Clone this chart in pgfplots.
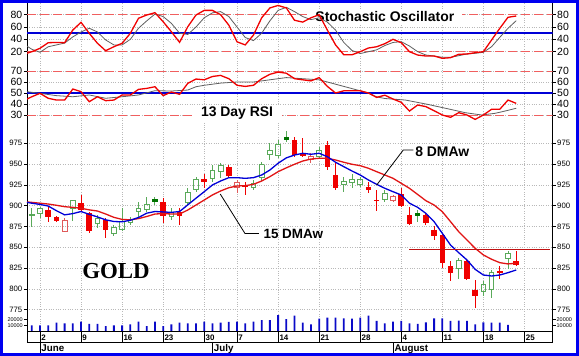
\documentclass[border=0pt]{standalone}
\usepackage{pgfplots}
\pgfplotsset{compat=1.18}
\usepackage{pgfplotstable}
\usepackage{fontspec}
\setmainfont{Liberation Sans}
\newfontfamily\goldfont{Liberation Serif}
\definecolor{frameblue}{RGB}{0,0,240}
\definecolor{upgreen}{RGB}{90,170,90}
\definecolor{dkgreen}{RGB}{0,115,0}
\definecolor{candred}{RGB}{240,0,0}
\definecolor{pinkred}{RGB}{225,90,90}
\definecolor{dashred}{RGB}{240,95,95}
\definecolor{gridgray}{RGB}{185,185,185}
\definecolor{stochgray}{RGB}{95,95,95}
\definecolor{lineblue}{RGB}{0,0,215}
\definecolor{ma15}{RGB}{225,20,20}
\definecolor{volblue}{RGB}{10,10,200}

\pgfplotstableread{
i o h l c
-1 888 897 874 890
0 891 899 885 897
4 897 907 881 906
7 879 889 873 885
9 867 877 863 874
10 872 897 870 881
11 880 887 877 884
12 893 904 884 897
13 895 911 892 901
16 887 897 883 892
18 904 921 901 916
19 919 935 917 931
21 933 949 928 942
22 941 951 933 948
26 922 931 919 927
27 934 953 930 949
28 962 975 955 967
29 960 979 957 974
34 959 971 957 967
37 926 935 917 929
38 928 938 921 932
39 926 935 923 931
42 908 919 905 915
51 824 837 812 834
54 797 809 791 805
55 799 823 789 820
57 836 846 824 843
}\upcandles

\pgfplotstableread{
i o h l c
1 895 898 880 886
2 887 888 881 882
5 903 913 892 895
6 891 893 867 869
8 883 885 861 871
15 904 909 879 888
17 892 897 877 888
20 932 938 921 929
23 946 949 935 936
25 925 929 913 923
31 979 983 959 961
32 963 981 958 960
35 973 978 943 947
36 937 951 919 921
40 923 929 915 919
41 907 919 894 905.5
44 914 921 899 900
45 889 899 877 878
47 889 891 877 879
48 871 875 859 863
49 865 867 825 831
50 827 834 809 819
52 833 835 811 812
53 799 811 777 792
56 822 828 812 819
58 833 845 827 829
}\dncandles

\pgfplotstableread{
i o h l c
3 869 885 868 882
24 922 931 915 928
33 955 963 951 959
43 906 913 904 911
}\uprcandles

\pgfplotstableread{
i o h l c
14 908 911 901 905
30 983 990 977 979
46 891 895 881 888
}\dgcandles

\pgfplotsset{
  panel/.style={
    scale only axis, width=525.5bp, xmin=-1.583, xmax=62.42,
    anchor=north west,
    separate axis lines,
    x axis line style={draw=none},
    y axis line style={draw=black, line width=0.8bp},
    xtick={0,5,10,15,20,24,29,34,39,44,49,54,59},
    xticklabels={},
    major x tick style={draw=none},
    xmajorgrids, ymajorgrids,
    major grid style={draw=gridgray, dotted, line width=0.6bp},
    tick align=outside, ytick pos=left,
    major tick length=3bp,
    /pgf/number format/assume math mode=true,
    scaled y ticks=false,
    yticklabel style={inner sep=1.5bp},
    major y tick style={black, line width=0.6bp},
  },
  rightpanel/.style={
    scale only axis, width=525.5bp, xmin=-1.583, xmax=62.42,
    anchor=north west,
    separate axis lines,
    x axis line style={draw=none},
    y axis line style={draw=none},
    xtick=\empty,
    tick align=outside, ytick pos=right, yticklabel pos=right,
    major tick length=3bp,
    /pgf/number format/assume math mode=true,
    scaled y ticks=false,
    yticklabel style={inner sep=1.5bp},
    major y tick style={black, line width=0.6bp},
  },
  vbar/.style 2 args={only marks, mark=*, mark size=0pt, mark options={draw=none, fill=none}, forget plot,
    error bars/.cd, y dir=both, y explicit, error mark=none,
    error bar style={solid, line width=#2, draw=#1}},
  hbar/.style={only marks, mark=*, mark size=0pt, mark options={draw=none, fill=none}, forget plot,
    error bars/.cd, x dir=both, x explicit, error mark=none,
    error bar style={solid, line width=0.9bp, draw=#1}},
}

\begin{document}
\begin{tikzpicture}
\path[use as bounding box] (0bp,0bp) rectangle (579bp,-356bp);
\fill[white] (0bp,0bp) rectangle (579bp,-356bp);

% ---------------- Stochastic panel
\begin{axis}[panel, at={(27bp,-3bp)}, height=58bp, ymin=4.92, ymax=98.97,
  ytick={20,40,60,80},
  yticklabel style={font=\fontsize{10.5}{12}\selectfont}]
\addplot[dashred, line width=1bp, dash pattern=on 9bp off 4bp] coordinates {(-1.583,80) (62.42,80)};
\addplot[dashred, line width=1bp, dash pattern=on 9bp off 4bp] coordinates {(-1.583,20) (62.42,20)};
\node[fill=white, inner xsep=8bp, inner ysep=2bp, font=\fontsize{14}{16}\selectfont\bfseries] at (axis cs:42.0,77.1) {Stochastic Oscillator};
\addplot[lineblue, line width=1.5bp] coordinates {(-1.583,50) (62.42,50)};
% %D (gray)
\addplot[stochgray, line width=0.8bp] coordinates {
(-1.583,29) (-1,24) (0,19) (1,28) (2,31) (3,34) (4,44) (5,52) (6,58) (7,52) (8,39) (9,31) (10,31)
(11,40) (12,58) (13,70) (14,81) (15,77) (16,66) (17,50) (18,48) (19,60) (20,75) (21,83) (22,85)
(23,77) (24,60) (25,43) (26,38) (27,50) (28,70) (29,87) (30,92) (31,85) (32,77) (33,72) (34,75)
(35,68) (36,55) (37,35) (38,22) (39,17) (40,20) (41,23) (42,30) (43,35) (44,36.2) (45,29.2) (46,20)
(47,14.6) (48,13) (49,10.9) (50,10.9) (51,13.5) (52,16.3) (53,17.4) (54,19) (55,28.1) (56,43.3)
(57,57.9) (58,70.3)};
% %K (red)
\addplot[candred, line width=1.3bp] coordinates {
(-1.583,17.4) (-1,20) (0,25.5) (1,34.6) (2,35) (3,34.6) (4,55.2) (5,67.6) (6,49.8) (7,33.6) (8,21.6)
(9,28.1) (10,33.6) (11,49.8) (12,74.2) (13,79.5) (14,83.3) (15,68.6) (16,52.4) (17,35.2) (18,60.5)
(19,79.5) (20,87) (21,87) (22,80) (23,63) (24,36) (25,31) (26,47) (27,75) (28,91) (29,95) (30,91)
(31,71) (32,68) (33,75) (34,80) (35,55) (36,31) (37,15) (38,15) (39,20) (40,26) (41,28) (42,33)
(43,40.1) (44,34.6) (45,20) (46,14.6) (47,13) (48,13) (49,9.3) (50,10.3) (51,15.8) (52,16.3)
(53,18.4) (54,20) (55,39) (56,57.9) (57,75.8) (58,77.9)};
\end{axis}
\begin{axis}[rightpanel, at={(27bp,-3bp)}, height=58bp, ymin=4.92, ymax=98.97,
  ytick={20,40,60,80}, yticklabel style={font=\fontsize{10.5}{12}\selectfont}]
\end{axis}

% ---------------- RSI panel
\begin{axis}[panel, at={(27bp,-61bp)}, height=62bp, ymin=22.73, ymax=79.09,
  ytick={30,40,50,60,70},
  yticklabel style={font=\fontsize{10.5}{12}\selectfont}]
\addplot[dashred, line width=1bp, dash pattern=on 9bp off 4bp] coordinates {(-1.583,70) (62.42,70)};
\addplot[dashred, line width=1bp, dash pattern=on 9bp off 4bp] coordinates {(-1.583,30) (62.42,30)};
\node[fill=white, inner xsep=9bp, inner ysep=2bp, font=\fontsize{14}{16}\selectfont\bfseries] at (axis cs:24.0,31.8) {13 Day RSI};
\addplot[lineblue, line width=1.5bp] coordinates {(-1.583,50) (62.42,50)};
\addplot[stochgray, line width=0.8bp] coordinates {
(-1.583,51.2) (0,49.7) (2,47.6) (4,46.6) (6,48.2) (8,45.2) (10,46.6) (12,48.2) (14,52.1) (16,51.8)
(18,52.7) (19,55.7) (20,57) (22,59) (24,60) (26,60) (28,62) (30,64) (32,63) (34,62) (36,58) (38,54)
(40,50) (41,46.5) (42,45) (44.5,43.6) (47,40) (49.4,36.1) (51.8,32.1) (53.8,30) (55.4,31.5)
(56.3,33) (58,36.1)};
\addplot[candred, line width=1.3bp] coordinates {
(-1.583,44.5) (-1,46.6) (0,49.7) (1,45.2) (2,43.6) (3,43.6) (4,53.6) (5,51.2) (6,42.1) (7,46.6)
(8,43) (9,43.6) (10,48.2) (11,48.2) (12,53.3) (13,54.2) (14,55.7) (15,47.6) (16,50.9) (17,48.8)
(18,58.8) (19,62.7) (20,62) (21,65) (22,66) (23,63) (24,57) (25,56) (26,57) (27,63) (28,67) (29,69)
(30,68) (31,63) (32,62) (33,61) (34,64) (35,56) (36,50) (37,52) (38,52) (39,52) (40,50) (41,46)
(42,48) (43,44.5) (44,41.5) (45,33.6) (46,39.1) (47,37.6) (48,33.9) (49,30) (50,27.9) (51,32.1)
(52,30) (53,26) (54,30) (55,35.2) (56,35.2) (57,43.6) (58,40.6)};
\end{axis}
\begin{axis}[rightpanel, at={(27bp,-61bp)}, height=62bp, ymin=22.73, ymax=79.09,
  ytick={30,40,50,60,70}, yticklabel style={font=\fontsize{10.5}{12}\selectfont}]
\end{axis}

% ---------------- Price panel
\begin{axis}[panel, at={(27bp,-123bp)}, height=191bp, ymin=769.8, ymax=999.4,
  ytick={775,800,825,850,875,900,925,950,975},
  yticklabel style={font=\fontsize{7.8}{9}\selectfont}]
% hollow green candles: wicks above and below the body, then the four edges
\addplot[vbar={upgreen}{0.9bp}] table[x=i, y expr={min(\thisrow{o},\thisrow{c})}, y error plus expr={0}, y error minus expr={min(\thisrow{o},\thisrow{c})-\thisrow{l}}] {\upcandles};
\addplot[vbar={upgreen}{0.9bp}] table[x=i, y expr={max(\thisrow{o},\thisrow{c})}, y error plus expr={\thisrow{h}-max(\thisrow{o},\thisrow{c})}, y error minus expr={0}] {\upcandles};
\addplot[vbar={upgreen}{0.9bp}] table[x expr={\thisrow{i}-0.285}, y expr={(\thisrow{o}+\thisrow{c})/2}, y error expr={abs(\thisrow{o}-\thisrow{c})/2+0.5}] {\upcandles};
\addplot[vbar={upgreen}{0.9bp}] table[x expr={\thisrow{i}+0.285}, y expr={(\thisrow{o}+\thisrow{c})/2}, y error expr={abs(\thisrow{o}-\thisrow{c})/2+0.5}] {\upcandles};
\addplot[hbar=upgreen] table[x=i, y expr={max(\thisrow{o},\thisrow{c})}, x error expr={0.34}] {\upcandles};
\addplot[hbar=upgreen] table[x=i, y expr={min(\thisrow{o},\thisrow{c})}, x error expr={0.34}] {\upcandles};
% hollow red-outlined candles
\addplot[vbar={pinkred}{0.9bp}] table[x=i, y expr={min(\thisrow{o},\thisrow{c})}, y error plus expr={0}, y error minus expr={min(\thisrow{o},\thisrow{c})-\thisrow{l}}] {\uprcandles};
\addplot[vbar={pinkred}{0.9bp}] table[x=i, y expr={max(\thisrow{o},\thisrow{c})}, y error plus expr={\thisrow{h}-max(\thisrow{o},\thisrow{c})}, y error minus expr={0}] {\uprcandles};
\addplot[vbar={pinkred}{0.9bp}] table[x expr={\thisrow{i}-0.285}, y expr={(\thisrow{o}+\thisrow{c})/2}, y error expr={abs(\thisrow{o}-\thisrow{c})/2+0.5}] {\uprcandles};
\addplot[vbar={pinkred}{0.9bp}] table[x expr={\thisrow{i}+0.285}, y expr={(\thisrow{o}+\thisrow{c})/2}, y error expr={abs(\thisrow{o}-\thisrow{c})/2+0.5}] {\uprcandles};
\addplot[hbar=pinkred] table[x=i, y expr={max(\thisrow{o},\thisrow{c})}, x error expr={0.34}] {\uprcandles};
\addplot[hbar=pinkred] table[x=i, y expr={min(\thisrow{o},\thisrow{c})}, x error expr={0.34}] {\uprcandles};
% filled red candles
\addplot[vbar={candred}{0.9bp}] table[x=i, y expr={(\thisrow{h}+\thisrow{l})/2}, y error expr={(\thisrow{h}-\thisrow{l})/2}] {\dncandles};
\addplot[vbar={candred}{5.6bp}] table[x=i, y expr={(\thisrow{o}+\thisrow{c})/2}, y error expr={max(abs(\thisrow{o}-\thisrow{c})/2,0.8)}] {\dncandles};
% filled dark green candles
\addplot[vbar={upgreen}{0.9bp}] table[x=i, y expr={(\thisrow{h}+\thisrow{l})/2}, y error expr={(\thisrow{h}-\thisrow{l})/2}] {\dgcandles};
\addplot[vbar={dkgreen}{5.6bp}] table[x=i, y expr={(\thisrow{o}+\thisrow{c})/2}, y error expr={max(abs(\thisrow{o}-\thisrow{c})/2,0.8)}] {\dgcandles};
% 15 DMAw
\addplot[ma15, line width=1.3bp] coordinates {
(-1.583,904.5) (-1,904) (0,903) (1,902) (2,900.5) (3,898.8) (4,898) (5,896.9) (6,895) (7,893.6)
(8,890) (9,886) (10,883.5) (11,883) (12,884.5) (13,887) (14,890) (15,890.5) (16,890) (17,890)
(18,894.8) (19,900.8) (20,906.8) (21,912.9) (22,917.7) (23,921.6) (24,923.7) (25,924.1) (26,925.7)
(27,929.7) (28,934.9) (29,940.9) (30,945.5) (31,949.8) (32,953.7) (33,956.1) (34,957) (35,957)
(36,954.9) (37,952.2) (38,949.8) (39,948.1) (40,945) (41,940.9) (42,936.9) (43,932.9) (44,926.9)
(45,920.9) (46,913.5) (47,906) (48,900.8) (49,892.8) (50,880.8) (51,868.7) (52,858.8) (53,848.8)
(54,840.8) (55,835.6) (56,831.5) (57,830) (58,830.8)};
% 8 DMAw
\addplot[lineblue, line width=1.3bp] coordinates {
(-1.583,904) (-1,903) (0,901.5) (1,899.6) (2,894) (3,889) (4,890.5) (5,893) (6,889.6) (7,886.5)
(8,883) (9,881) (10,880.6) (11,882.5) (12,885.8) (13,891) (14,893) (15,892.5) (16,892) (17,893)
(18,901) (19,909) (20,916.8) (21,924.9) (22,929.7) (23,933.7) (24,933.7) (25,932.9) (26,933.7)
(27,936.9) (28,942.9) (29,951) (30,957.5) (31,960.9) (32,963) (33,961.8) (34,963) (35,958.9)
(36,952.2) (37,946.9) (38,941.7) (39,936.9) (40,930.9) (41,925.7) (42,920.9) (43,916.8) (44,912.9)
(45,903) (46,898) (47,890.8) (48,880.8) (49,866.8) (50,852.7) (51,843.5) (52,834.8) (53,823.5)
(54,816.7) (55,815.5) (56,816.7) (57,819.5) (58,822.7)};
% horizontal resistance line
\addplot[ma15!85!black, line width=1.2bp] coordinates {(44.98,847.5) (62.1,847.5)};
% annotations
\draw[black, line width=0.8bp] (axis cs:21.95,914.1) -- (axis cs:24.97,866.5) -- (axis cs:26.67,866.5);
\node[anchor=west, inner sep=0pt, font=\fontsize{13.5}{15}\selectfont\bfseries] at (axis cs:27.2,865.5) {15 DMAw};
\draw[black, line width=0.8bp] (axis cs:41.01,924.9) -- (axis cs:44.25,967) -- (axis cs:45.47,967);
\node[anchor=west, inner sep=0pt, font=\fontsize{14}{16}\selectfont\bfseries] at (axis cs:45.68,965.5) {8 DMAw};
\node[font=\goldfont\bfseries\fontsize{23}{26}\selectfont] at (axis cs:9.26,822) {GOLD};
\end{axis}
\begin{axis}[rightpanel, at={(27bp,-123bp)}, height=191bp, ymin=769.8, ymax=999.4,
  ytick={775,800,825,850,875,900,925,950,975},
  yticklabel style={font=\fontsize{7.8}{9}\selectfont}]
\end{axis}

% ---------------- Volume panel
\begin{axis}[panel, at={(27bp,-314bp)}, height=17bp, ymin=0, ymax=29050, clip=false,
  ytick={10000,20000}, yticklabels={10000,20000}, ymajorgrids=false,
  yticklabel style={font=\fontsize{5.5}{6}\selectfont, inner sep=1bp},
  xticklabels={2,9,16,23,30,7,14,21,28,4,11,18,25},
  xticklabel style={anchor=north west, font=\fontsize{8}{9}\selectfont\bfseries, inner sep=0pt, xshift=1.2bp, yshift=-1bp},
  ybar, bar width=1.8bp]
\addplot[fill=volblue, draw=none] coordinates {
(-1,9700) (0,9700) (1,9700) (2,14200) (3,13200) (4,13200) (5,15900) (6,12000) (7,12000) (8,8500)
(9,9700) (10,9700) (11,11500) (12,15900) (13,8500) (14,15900) (15,8500) (16,11500) (17,14200)
(18,13200) (19,13200) (20,15900) (21,13200) (22,14200) (23,15400) (24,15900) (25,13200) (26,15900)
(27,18800) (28,18800) (29,27300) (30,20500) (31,26100) (32,14200) (33,11500) (34,21000) (35,22700)
(36,22700) (37,21700) (38,21000) (39,22700) (40,26100) (41,17100) (42,13200) (43,15900) (44,17100)
(45,13200) (46,12000) (47,14900) (48,21700) (49,21700) (50,17100) (51,17600) (52,17100) (53,11500)
(54,14900) (55,14200) (56,14200) (57,10300)};
\draw[black, line width=0.8bp] (axis cs:-1.583,0) -- (axis cs:62.42,0);
\draw[black, line width=0.8bp] ([yshift=-11.3bp]axis cs:-1.583,0) -- ([yshift=-11.3bp]axis cs:62.42,0);
\pgfplotsinvokeforeach{-1.583,0,5,10,15,20,24,29,34,39,44,49,54,59,62.42}{
  \draw[black, line width=0.6bp] (axis cs:#1,0) -- ([yshift=-11.3bp]axis cs:#1,0);
}
\pgfplotsinvokeforeach{0,21,43}{
  \draw[black, line width=0.6bp] ([yshift=-11.3bp]axis cs:#1,0) -- ([yshift=-23bp]axis cs:#1,0);
}
\node[anchor=north west, inner sep=0pt, font=\fontsize{9.8}{11}\selectfont\bfseries] at ([xshift=1.3bp,yshift=-13.3bp]axis cs:0,0) {June};
\node[anchor=north west, inner sep=0pt, font=\fontsize{9.8}{11}\selectfont\bfseries] at ([xshift=1.3bp,yshift=-13.3bp]axis cs:21,0) {July};
\node[anchor=north west, inner sep=0pt, font=\fontsize{9.8}{11}\selectfont\bfseries] at ([xshift=1.3bp,yshift=-13.3bp]axis cs:43,0) {August};
\end{axis}
\begin{axis}[rightpanel, at={(27bp,-314bp)}, height=17bp, ymin=0, ymax=29050,
  ytick={10000,20000}, yticklabels={10000,20000},
  yticklabel style={font=\fontsize{5.5}{6}\selectfont, inner sep=1bp}]
\end{axis}

\draw[frameblue, line width=3.2bp] (1.6bp,-1.6bp) rectangle (577.4bp,-354.4bp);
\end{tikzpicture}
\end{document}
